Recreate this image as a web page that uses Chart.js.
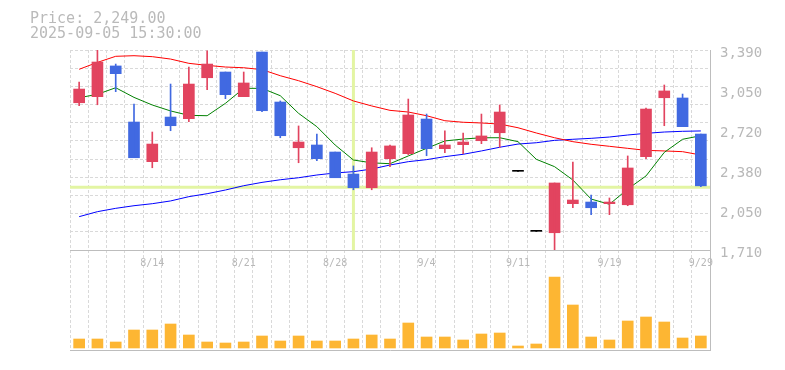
<!DOCTYPE html>
<html>
<head>
<meta charset="utf-8">
<script src="https://cdn.jsdelivr.net/npm/chart.js@4.4.1/dist/chart.umd.min.js"></script>
<style>
  html, body { margin: 0; padding: 0; background: #fff; }
  #wrap { position: relative; width: 785px; height: 370px; }
  #wrap canvas { position: absolute; left: 0; top: 0; }
  .info { position: absolute; left: 30px; font: 15px/16px "DejaVu Sans Mono", monospace; color: #bababa; white-space: pre; }
</style>
</head>
<body>
<div id="wrap">
  <canvas id="volChart" width="785" height="370"></canvas>
  <canvas id="priceChart" width="785" height="370"></canvas>
  <div class="info" style="top:10px">Price: 2,249.00</div>
  <div class="info" style="top:25px">2025-09-05 15:30:00</div>
</div>
<script>
// daily candles
const dates = ['8/7','8/8','8/12','8/13','8/14','8/15','8/18','8/19','8/20','8/21','8/22','8/25','8/26','8/27','8/28','8/29',
  '9/1','9/2','9/3','9/4','9/5','9/8','9/9','9/10','9/11','9/12','9/16','9/17','9/18','9/19','9/22','9/24','9/25','9/26','9/29'];
const xTickLabels = ['8/14','8/21','8/28','9/4','9/11','9/19','9/29'];
const priceTickLabels = ['1,710','2,050','2,380','2,720','3,050','3,390'];

const opens  = [2947,2998,3256,2785,2452,2827,2813,3157,3205,2998,3373,2953,2569,2592,2533,2348,2233,2477,2519,2810,2561,2595,2628,2695,2371,1867,1855,2099,2113,2099,2090,2494,2989,2987,2684];
const highs  = [3121,3390,3272,2936,2701,3104,3247,3382,3205,3205,3373,2962,2752,2684,2533,2416,2569,2592,2978,2852,2710,2693,2852,2928,2371,1867,2273,2449,2172,2147,2500,2903,3096,3020,2684];
const lows   = [2922,2930,3040,2485,2401,2712,2788,3057,2981,2998,2872,2653,2443,2460,2317,2216,2216,2410,2511,2502,2527,2519,2603,2573,2371,1867,1710,2065,2007,2007,2082,2477,2754,2746,2242];
const closes = [3062,3289,3191,2485,2600,2754,3104,3272,3015,3113,2880,2670,2617,2477,2317,2233,2533,2584,2844,2561,2592,2617,2668,2869,2371,1867,2273,2130,2065,2113,2399,2894,3046,2746,2249];
const volumes = [9000,9000,6000,18000,18000,24000,13000,6000,5000,6000,12000,7000,12000,7000,7000,9000,13000,9000,25000,11000,11000,8000,14000,15000,2000,4000,71000,43000,11000,8000,27000,31000,26000,10000,12000];

// moving averages
const maShort = [2989,3018,3073,2992,2928,2878,2841,2838,2942,3068,3068,3006,2858,2746,2592,2466,2442,2435,2500,2564,2626,2642,2653,2653,2620,2472,2410,2298,2138,2094,2222,2332,2530,2640,2670];
const maMid   = [3228,3286,3337,3342,3334,3314,3278,3261,3247,3241,3225,3174,3132,3082,3026,2962,2920,2883,2869,2838,2796,2783,2777,2768,2737,2693,2653,2620,2598,2581,2564,2547,2542,2536,2508];
const maLong  = [1990,2032,2060,2082,2099,2122,2158,2183,2214,2250,2278,2300,2317,2340,2357,2368,2390,2424,2452,2469,2494,2514,2542,2573,2600,2611,2631,2640,2648,2659,2676,2690,2701,2707,2710];

// crosshair position
const crosshairIndex = 15;
const crosshairPrice = 2238;

const UP = '#e2445f', DOWN = '#4169e1', FLAT = '#000000';
const GRID = '#d9d9d9', AXIS = '#bdbdbd', TEXT = '#b8b8b8';
const MONO = "'DejaVu Sans Mono', monospace";

const candleColors = opens.map((o, i) => closes[i] > o ? UP : closes[i] < o ? DOWN : FLAT);
const bodies = opens.map((o, i) => [o, closes[i]]);
const wicks = lows.map((l, i) => [l, highs[i]]);
const priceMin = Math.min(...lows);
const priceMax = Math.max(...highs);

const crosshair = {
  id: 'crosshair',
  beforeDatasetsDraw(chart) {
    const { ctx, chartArea: a, scales: { x, y } } = chart;
    const px = x.getPixelForValue(crosshairIndex);
    const py = y.getPixelForValue(crosshairPrice);
    ctx.save();
    ctx.strokeStyle = '#e3f5a3';
    ctx.lineWidth = 3;
    ctx.beginPath();
    ctx.moveTo(a.left, py); ctx.lineTo(a.right, py);
    ctx.moveTo(px, a.top); ctx.lineTo(px, a.bottom);
    ctx.stroke();
    ctx.restore();
  }
};

new Chart(document.getElementById('priceChart'), {
  type: 'bar',
  data: {
    labels: dates,
    datasets: [
      { type: 'line', data: maShort, borderColor: '#008000', borderWidth: 1, pointRadius: 0, tension: 0, order: 1 },
      { type: 'line', data: maMid, borderColor: '#ff0000', borderWidth: 1, pointRadius: 0, tension: 0, order: 1 },
      { type: 'line', data: maLong, borderColor: '#0000ff', borderWidth: 1, pointRadius: 0, tension: 0, order: 1 },
      { data: wicks, backgroundColor: candleColors, barThickness: 1, grouped: false, order: 0 },
      { data: bodies, backgroundColor: candleColors, barThickness: 11, minBarLength: 1, grouped: false, order: 0 }
    ]
  },
  options: {
    responsive: false,
    animation: false,
    layout: { padding: { left: 70, top: 50, right: 0, bottom: 0 } },
    plugins: { legend: { display: false }, tooltip: { enabled: false } },
    scales: {
      x: {
        offset: true,
        grid: { color: GRID, offset: true, drawTicks: false },
        border: { color: AXIS, dash: [3, 2] },
        ticks: {
          autoSkip: false, maxRotation: 0, padding: 7, color: TEXT,
          font: { family: MONO, size: 10 },
          callback: (v, i) => xTickLabels.includes(dates[i]) ? dates[i] : ''
        },
        afterFit: s => { s.height = 120; }
      },
      y: {
        position: 'right',
        min: priceMin, max: priceMax,
        grid: { display: false, drawTicks: false },
        border: { color: AXIS },
        ticks: {
          padding: 10, labelOffset: 3, color: TEXT,
          font: { family: MONO, size: 14 },
          callback: (v, i) => priceTickLabels[i]
        },
        afterBuildTicks: s => {
          const n = priceTickLabels.length - 1;
          s.ticks = priceTickLabels.map((_, i) => ({ value: priceMin + i * (priceMax - priceMin) / n }));
        },
        afterFit: s => { s.width = 75; }
      },
      yGrid: {
        position: 'left',
        min: 0, max: 11,
        grid: { color: GRID, drawTicks: false },
        border: { display: false, dash: [3, 2] },
        ticks: { display: false, stepSize: 1 },
        afterFit: s => { s.width = 0; }
      }
    }
  },
  plugins: [crosshair]
});

new Chart(document.getElementById('volChart'), {
  type: 'bar',
  data: {
    labels: dates,
    datasets: [{ data: volumes, backgroundColor: '#fdb633', barThickness: 11 }]
  },
  options: {
    responsive: false,
    animation: false,
    layout: { padding: { left: 70, top: 250, right: 0, bottom: 0 } },
    plugins: { legend: { display: false }, tooltip: { enabled: false } },
    scales: {
      x: {
        offset: true,
        grid: { color: GRID, offset: true, drawTicks: false },
        border: { color: AXIS, dash: [3, 2] },
        ticks: { display: false },
        afterFit: s => { s.height = 20; }
      },
      y: {
        position: 'right',
        min: -2000, max: 98000,
        grid: { display: false, drawTicks: false },
        border: { color: AXIS },
        ticks: { display: false },
        afterFit: s => { s.width = 75; }
      }
    }
  }
});
</script>
</body>
</html>
